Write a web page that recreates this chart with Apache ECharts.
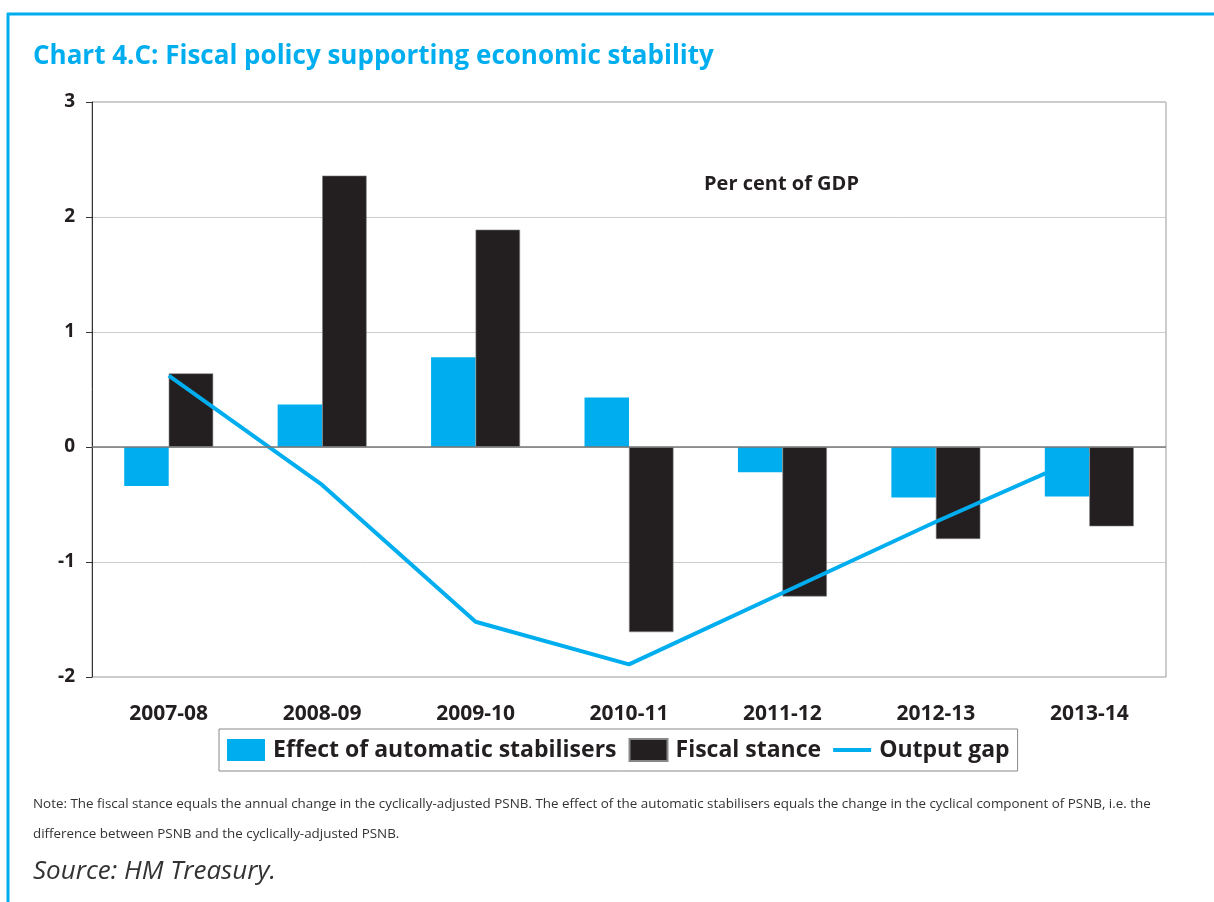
<!DOCTYPE html>
<html>
<head>
<meta charset="utf-8">
<script src="https://cdn.jsdelivr.net/npm/echarts@6/dist/echarts.min.js"></script>
<style>
  html, body { margin: 0; padding: 0; background: #fff; }
  #chart { width: 1214px; height: 902px; }
</style>
</head>
<body>
<div id="chart"></div>
<script>
const years = ['2007-08', '2008-09', '2009-10', '2010-11', '2011-12', '2012-13', '2013-14'];
const stabilisers = [-0.34, 0.37, 0.78, 0.43, -0.22, -0.44, -0.43];
const fiscalStance = [0.64, 2.36, 1.89, -1.61, -1.30, -0.80, -0.69];
const outputGap = [0.62, -0.33, -1.52, -1.89, -1.27, -0.65, -0.06];
const yTicks = [-2, -1, 0, 1, 2, 3];

const cyan = '#00aeef';
const dark = '#231f20';
const font = '"Open Sans", "Noto Sans", sans-serif';

const chart = echarts.init(document.getElementById('chart'));

const option = {
    animation: false,
    backgroundColor: '#fff',
    textStyle: { fontFamily: font },
    grid: {
        left: 92,
        right: 48,
        top: 102,
        bottom: 225,
        show: true,
        borderColor: '#999',
        borderWidth: 1
    },
    graphic: [
        { type: 'line', shape: { x1: 7, y1: 14, x2: 1214, y2: 14 }, style: { stroke: cyan, lineWidth: 3 } },
        { type: 'line', shape: { x1: 8, y1: 13, x2: 8, y2: 902 }, style: { stroke: cyan, lineWidth: 3 } },
        {
            type: 'text', left: 33, top: 44,
            style: { text: 'Chart 4.C: Fiscal policy supporting economic stability', fill: cyan, font: 'bold 26px ' + font }
        },
        {
            type: 'text', left: 704, top: 174,
            style: { text: 'Per cent of GDP', fill: dark, font: 'bold 20px ' + font }
        },
        {
            type: 'text', left: 33, top: 789,
            style: {
                text: 'Note: The fiscal stance equals the annual change in the cyclically-adjusted PSNB. The effect of the automatic stabilisers equals the change in the cyclical component of PSNB, i.e. the\ndifference between PSNB and the cyclically-adjusted PSNB.',
                fill: '#333', font: '13.4px ' + font, lineHeight: 30
            }
        },
        {
            type: 'text', left: 33, top: 859,
            style: { text: 'Source: HM Treasury.', fill: '#333', font: 'italic 26px ' + font }
        }
    ],
    legend: {
        left: 219,
        top: 729,
        padding: [9, 8, 9, 8],
        borderColor: '#888',
        borderWidth: 1,
        itemWidth: 38,
        itemHeight: 22,
        itemGap: 12,
        symbolKeepAspect: true,
        textStyle: { fontSize: 23, fontWeight: 'bold', color: dark, fontFamily: font, padding: [0, 0, 0, 3] },
        data: [
            { name: 'Effect of automatic stabilisers', icon: 'rect' },
            { name: 'Fiscal stance', icon: 'rect' },
            { name: 'Output gap', icon: 'path://M0,0 L40,0 L40,4 L0,4 Z' }
        ]
    },
    xAxis: {
        type: 'category',
        data: years,
        axisLine: { show: false, onZero: false },
        axisTick: { show: false },
        axisLabel: { fontSize: 21, fontWeight: 'bold', color: dark, margin: 27 }
    },
    yAxis: {
        type: 'value',
        min: yTicks[0],
        max: yTicks[yTicks.length - 1],
        interval: 1,
        axisLine: { show: true, lineStyle: { color: '#333', width: 1 } },
        axisTick: { show: true, length: 6, lineStyle: { color: '#333' } },
        splitLine: { lineStyle: { color: '#ccc' } },
        axisLabel: { fontSize: 19, fontWeight: 'bold', color: dark, margin: 17 }
    },
    series: [
        {
            name: 'Effect of automatic stabilisers',
            type: 'bar',
            data: stabilisers,
            barGap: '0%',
            barCategoryGap: '42%',
            itemStyle: { color: cyan },
            markLine: {
                silent: true,
                symbol: 'none',
                label: { show: false },
                lineStyle: { color: '#777', width: 1.5, type: 'solid' },
                data: [{ yAxis: 0 }]
            }
        },
        {
            name: 'Fiscal stance',
            type: 'bar',
            data: fiscalStance,
            itemStyle: { color: dark, borderColor: '#888', borderWidth: 0.6 }
        },
        {
            name: 'Output gap',
            type: 'line',
            data: outputGap,
            symbol: 'none',
            lineStyle: { color: cyan, width: 4 },
            itemStyle: { color: cyan }
        }
    ]
};

chart.setOption(option);
</script>
</body>
</html>
